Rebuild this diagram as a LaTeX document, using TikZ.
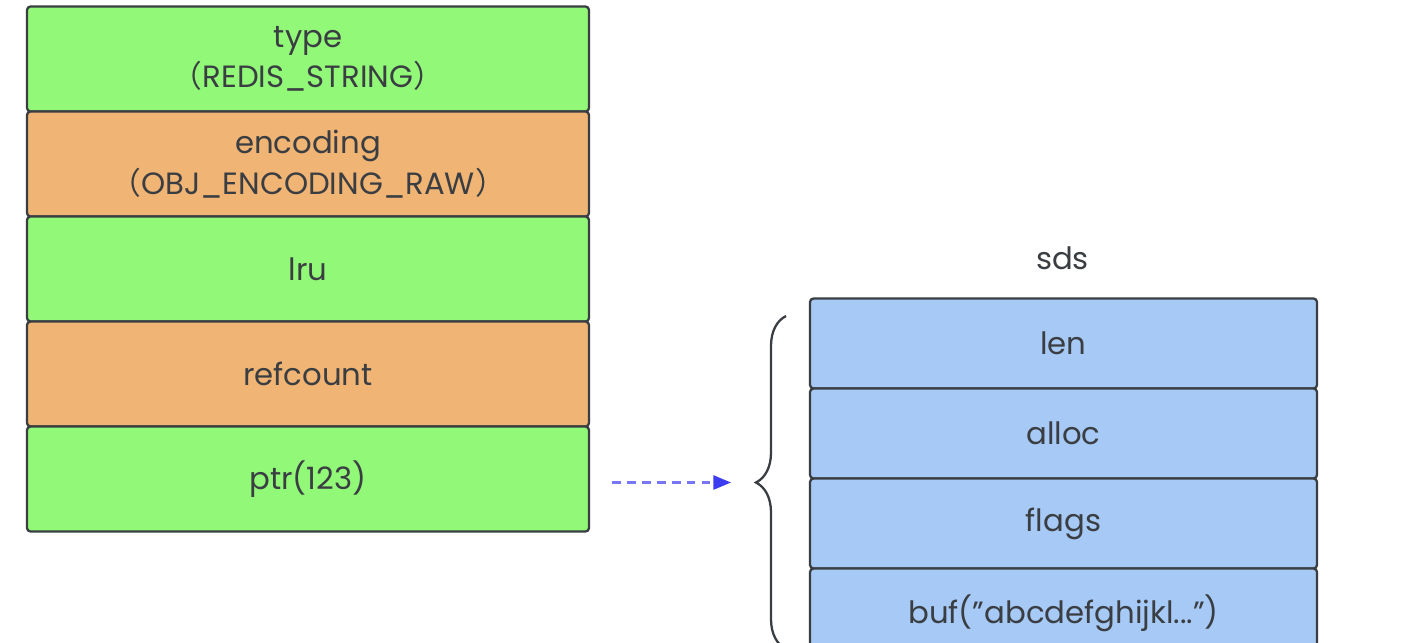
\documentclass[tikz,border=0pt]{standalone}
\usepackage{fontspec}
\setmainfont{Poppins}
\newfontfamily\cjk{Noto Sans CJK SC}
\usetikzlibrary{arrows.meta,decorations.pathreplacing}
\definecolor{field-green}{HTML}{92F878}
\definecolor{field-orange}{HTML}{F0B474}
\definecolor{field-blue}{HTML}{A6C9F5}
\definecolor{edge-gray}{HTML}{3A3E42}
\definecolor{ptr-blue}{HTML}{3C3CF0}
\newcommand{\lpar}{{\cjk （}}
\newcommand{\rpar}{{\cjk ）}}

\begin{document}
\begin{tikzpicture}[
        every node/.style={font=\fontsize{17.5}{23}\selectfont, text=edge-gray},
        objfield/.style={draw=edge-gray, line width=1.3pt, rounded corners=2pt,
            minimum width=11.24cm, minimum height=2.1cm, align=center},
        sdsfield/.style={draw=edge-gray, line width=1.3pt, rounded corners=2pt, fill=field-blue,
            minimum width=10.14cm, minimum height=1.8cm, align=center}]
      \clip (0,0) rectangle (28.12,-12.84);
      \fill[white] (0,0) rectangle (28.12,-12.84);
      % redisObject
      \node[objfield, fill=field-green]  (TYPE) at (6.16,-1.18) {type\\\lpar REDIS\_STRING\rpar};
      \node[objfield, fill=field-orange] (ENC)  at (6.16,-3.28) {encoding\\\lpar OBJ\_ENCODING\_RAW\rpar};
      \node[objfield, fill=field-green]  (LRU)  at (6.16,-5.38) {lru};
      \node[objfield, fill=field-orange] (REF)  at (6.16,-7.48) {refcount};
      \node[objfield, fill=field-green]  (PTR)  at (6.16,-9.58) {ptr(123)};
      % sds
      \node (SDS) at (21.25,-5.16) {sds};
      \node[sdsfield] (LEN)   at (21.27,-6.87)  {len};
      \node[sdsfield] (ALLOC) at (21.27,-8.67)  {alloc};
      \node[sdsfield] (FLAGS) at (21.27,-10.47) {flags};
      \node[sdsfield] (BUF)   at (21.27,-12.27) {buf(\symbol{34}abcdefghijkl...\symbol{34})};
      \coordinate (BRB) at (15.72,-12.98);
      \coordinate (BRT) at (15.72,-6.32);
      \draw[edge-gray, line width=1.3pt, decorate, decoration={brace, amplitude=0.6cm}]
            (BRB) -- (BRT);
      % pointer
      \coordinate (ARRS) at (12.24,-9.65);
      \coordinate (TIP) at (14.62,-9.65);
      \draw[ptr-blue!70, line width=1.2pt, dash pattern=on 5pt off 3.5pt,
            -{Triangle[length=10pt,width=8pt,color=ptr-blue]}]
            (ARRS) -- (TIP);
    \end{tikzpicture}
\end{document}
